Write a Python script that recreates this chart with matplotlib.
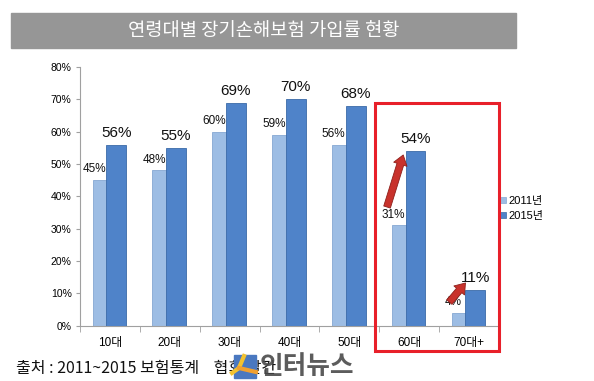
import matplotlib
matplotlib.use("Agg")
import matplotlib.pyplot as plt
from matplotlib.patches import Rectangle
from matplotlib.lines import Line2D
import numpy as np

plt.rcParams["font.family"] = ["Liberation Sans", "Noto Sans CJK KR", "DejaVu Sans"]

categories = ["10대", "20대", "30대", "40대", "50대", "60대", "70대+"]
rate_2011 = [0.45, 0.48, 0.60, 0.59, 0.56, 0.31, 0.04]
rate_2015 = [0.56, 0.55, 0.69, 0.70, 0.68, 0.54, 0.11]
series_names = ["2011년", "2015년"]
title = "연령대별 장기손해보험 가입률 현황"
source = "출처 : 2011~2015 보험통계    협회 발간"
watermark = "인터뉴스"

# growth arrows for 60대 and 70대+ (tail, head) in data units
arrows = [((4.63, 0.367), (4.90, 0.528)), ((5.67, 0.073), (5.94, 0.132))]

light = "#9dbde4"
dark = "#4f83c9"

W, H = 594, 381
fig = plt.figure(figsize=(W / 100, H / 100), dpi=100)

# grey title bar
fig.patches.append(Rectangle((11 / W, 1 - 48 / H), 505 / W, 35 / H,
                             transform=fig.transFigure, color="#969696", zorder=0))
fig.text(264 / W, 1 - 30.5 / H, title, color="white", fontsize=13.5,
         ha="center", va="center", family=["Noto Sans CJK KR"])

ax = fig.add_axes([80 / W, 55.3 / H, 419 / W, 258.7 / H])
x = np.arange(len(categories))

b1 = ax.bar(x - 0.125, rate_2011, width=0.33, color=light, edgecolor="#86a8d3",
            linewidth=0.6, zorder=2, label=series_names[0])
b2 = ax.bar(x + 0.105, rate_2015, width=0.33, color=dark, edgecolor="#3b6aa8",
            linewidth=0.6, zorder=3, label=series_names[1])

for xi, v in zip(x, rate_2011):
    ax.text(xi - 0.26, v + 0.015, f"{round(v * 100)}%", ha="center", va="bottom",
            fontsize=8.5, color="#111111", zorder=5)
for xi, v in zip(x, rate_2015):
    ax.text(xi + 0.105, v + 0.015, f"{round(v * 100)}%", ha="center", va="bottom",
            fontsize=11, color="#111111", zorder=5)

for tail, head in arrows:
    ax.annotate("", xy=head, xytext=tail, zorder=6,
                arrowprops=dict(arrowstyle="simple,head_width=1.0,head_length=0.7,tail_width=0.5",
                                fc="#c8322c", ec="#8e1f1a", lw=0.6, shrinkA=0, shrinkB=0))

ax.set_xlim(-0.5, len(categories) - 0.5)
ax.set_ylim(0, 0.8)
ax.set_yticks(np.arange(0, 0.81, 0.1))
ax.set_yticklabels([f"{round(t * 100)}%" for t in np.arange(0, 0.81, 0.1)], fontsize=7.5)
ax.set_xticks(x)
ax.set_xticklabels(categories, fontsize=8.5)
ax.set_xticks(np.arange(-0.5, len(categories)), minor=True)
ax.tick_params(axis="x", which="major", length=0, pad=8)
ax.tick_params(axis="x", which="minor", length=4, color="#a0a0a0")
ax.tick_params(axis="y", length=3, color="#a0a0a0", pad=3)
for s in ["top", "right"]:
    ax.spines[s].set_visible(False)
for s in ["left", "bottom"]:
    ax.spines[s].set_color("#a0a0a0")
    ax.spines[s].set_linewidth(0.8)

handles = [Line2D([], [], marker="s", ls="", markersize=4.5, markerfacecolor=c,
                  markeredgecolor=e, markeredgewidth=0.5)
           for c, e in [(light, "#86a8d3"), (dark, "#3b6aa8")]]
fig.legend(handles, series_names, loc="center left",
           bbox_to_anchor=(500 / W, 1 - 208.5 / H), frameon=False, fontsize=8,
           handlelength=0.6, handletextpad=0.2, labelspacing=0.45,
           borderpad=0, borderaxespad=0)

# red highlight box
fig.patches.append(Rectangle((375 / W, 1 - 351 / H), 124 / W, 248 / H,
                             transform=fig.transFigure, fill=False,
                             edgecolor="#e8202a", linewidth=2.2, zorder=10))

# source line and watermark
fig.text(16 / W, 1 - 369 / H, source, fontsize=11.5, ha="left", va="center",
         family=["Noto Sans CJK KR"], color="#111111")
fig.patches.append(Rectangle((234 / W, 1 - 378 / H), 22 / W, 23 / H,
                             transform=fig.transFigure, color="#4a78c0", zorder=11))
fig.lines.append(Line2D([244 / W, 239 / W, 232 / W], [1 - 356 / H, 1 - 368 / H, 1 - 373 / H],
                        transform=fig.transFigure, color="#f2c230", lw=3, zorder=12))
fig.lines.append(Line2D([239 / W, 256 / W], [1 - 368 / H, 1 - 372 / H],
                        transform=fig.transFigure, color="#f0a030", lw=3, zorder=12))
fig.text(307 / W, 1 - 367 / H, watermark, fontsize=18.5, fontweight="bold",
         ha="center", va="center", family=["Noto Sans CJK KR"],
         color="#4a4a4a", alpha=0.9, zorder=12)

fig.savefig("out.png", dpi=100)
